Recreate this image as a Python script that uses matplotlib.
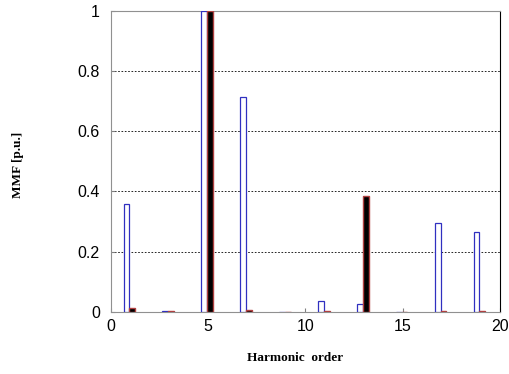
import numpy as np
import matplotlib.pyplot as plt

harmonics = np.array([1, 3, 5, 7, 9, 11, 13, 15, 17, 19])
mmf_a = np.array([0.36, 0.003, 1.0, 0.715, 0.0, 0.035, 0.027, 0.0, 0.295, 0.265])
mmf_b = np.array([0.012, 0.003, 1.0, 0.005, 0.0, 0.004, 0.385, 0.0, 0.002, 0.002])

plt.rcParams.update({
    "font.family": "Liberation Sans",
    "font.size": 11.5,
})

fig = plt.figure(figsize=(5.09, 3.74), dpi=100)
ax = fig.add_axes([0.218, 0.166, 0.764, 0.805])

w = 0.3
ax.bar(harmonics - 0.2, mmf_a, width=w, color="white", edgecolor="#3030c0", linewidth=0.9, zorder=3)
ax.bar(harmonics + 0.1, mmf_b, width=w, color="black", edgecolor="#b04040", linewidth=1.0, zorder=3)

ax.set_xlim(0, 20)
ax.set_ylim(0, 1)
ax.set_xticks(np.arange(0, 21, 5))
ax.set_yticks(np.arange(0, 1.01, 0.2))
ax.set_yticklabels(["0", "0.2", "0.4", "0.6", "0.8", "1"])
ax.tick_params(direction="in", length=3, color="#808080")
ax.tick_params(axis="y", pad=8)
ax.tick_params(axis="x", pad=5)
ax.grid(axis="y", linestyle=(0, (2, 2)), color="black", linewidth=0.6, zorder=0)

for side in ["left", "bottom", "top"]:
    ax.spines[side].set_color("#909090")
ax.spines["right"].set_color("black")

fig.text(0.58, 0.042, "Harmonic  order", ha="center", va="center",
         family="Liberation Serif", fontweight="bold", fontsize=9.5)
fig.text(0.035, 0.56, "MMF [p.u.]", ha="center", va="center", rotation=90,
         family="Liberation Serif", fontweight="bold", fontsize=9.5)

fig.savefig("out.png", dpi=100)
